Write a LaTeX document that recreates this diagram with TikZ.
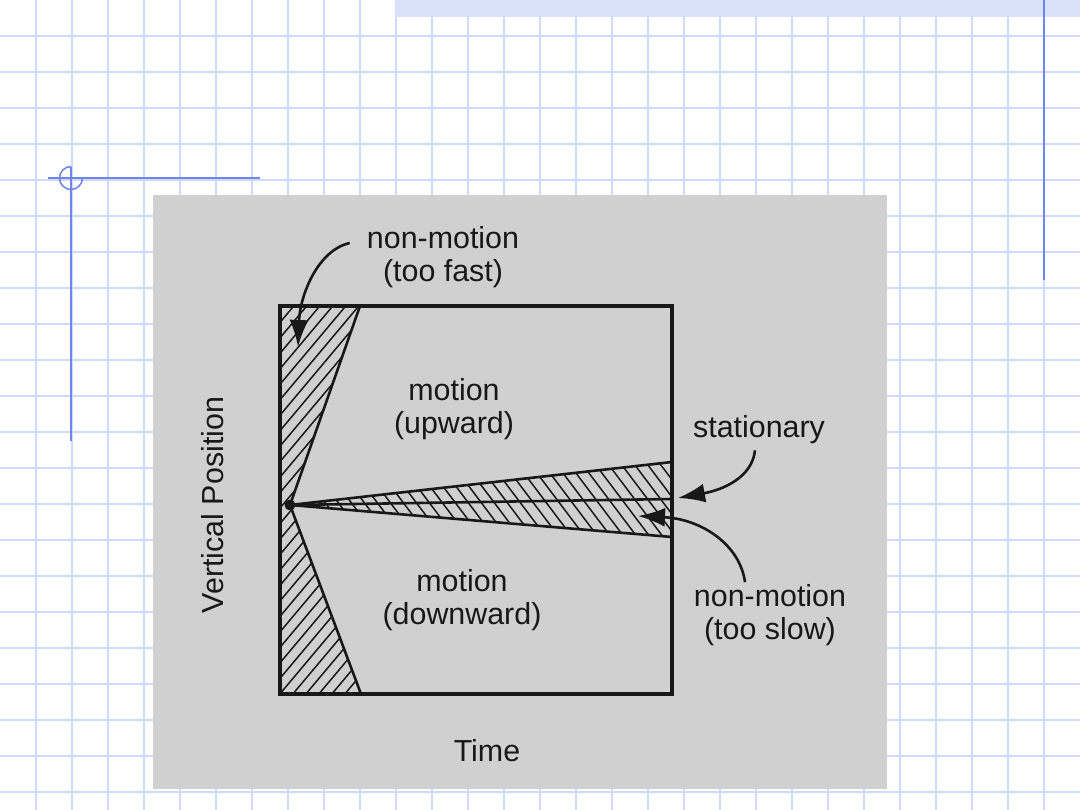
\documentclass[tikz,border=0pt]{standalone}
\usepackage{fontspec}
\setmainfont{Liberation Sans}
\usetikzlibrary{arrows.meta}

\definecolor{gridblue}{RGB}{206,218,252}
\definecolor{barblue}{RGB}{218,226,250}
\definecolor{markblue}{RGB}{112,132,238}
\definecolor{panelgray}{RGB}{208,208,208}
\definecolor{ink}{RGB}{24,24,24}

\begin{document}
\begin{tikzpicture}[x=1pt, y=-1pt,
    gridline/.style={gridblue, line width=2pt},
    markline/.style={markblue, line width=1.5pt},
    boxline/.style={ink, line width=3.5pt},
    wedgeline/.style={ink, line width=2.6pt},
    hatch/.style={ink, line width=1.5pt},
    pointer/.style={ink, line width=2.6pt, -{Latex[length=27pt, width=19pt]}},
    txt/.style={ink, inner sep=0pt, align=center, font=\fontsize{30.4}{33}\selectfont}]

    % page and squared paper
    \useasboundingbox (0,0) rectangle (1080,810);
    \fill[white] (0,0) rectangle (1080,810);
    \foreach \i in {36,72,...,1044}
        \draw[gridline] (\i,0) -- (\i,810);
    \foreach \j in {36,72,...,792}
        \draw[gridline] (0,\j) -- (1080,\j);

    % top bar and blue margin marks
    \fill[barblue] (395,0) rectangle (1080,17);
    \draw[markblue, line width=2pt] (1044,0) -- (1044,280);
    \draw[markline] (48,178) -- (260,178);
    \draw[markline] (71,167) -- (71,441);
    \draw[markline] (71,166.5) arc[start angle=270, end angle=0, radius=11.5];

    % gray panel
    \fill[panelgray] (153,195) rectangle (887,789);

    % hatched regions
    \begin{scope}
        \clip (280,306) -- (360,306) -- (290,505) -- (361,694) -- (280,694) -- cycle;
        \foreach \b in {-80,-67,...,350}
            \draw[hatch] (\b,720) -- ++(420,-500);
    \end{scope}
    \begin{scope}
        \clip (290,505) -- (672,462) -- (672,537) -- cycle;
        \foreach \b in {200,213,...,690}
            \draw[hatch] (\b,440) -- ++(83,110);
    \end{scope}

    % boundary lines
    \draw[wedgeline] (360,306) -- (290,505) -- (361,694);
    \draw[wedgeline] (672,462) -- (290,505) -- (672,537);
    \draw[wedgeline] (290,505) -- (672,499);
    \draw[boxline] (280,306) rectangle (672,694);
    \fill[ink] (290,505) circle (5.5);

    % texts
    \node[txt] (fast) at (443,257) {non-motion\\(too fast)};
    \node[txt] (upward) at (454,409) {motion\\(upward)};
    \node[txt] (downward) at (462,600) {motion\\(downward)};
    \node[txt] (stationary) at (759,430) {stationary};
    \node[txt] (slow) at (770,615) {non-motion\\(too slow)};
    \node[txt] (time) at (487,751) {Time};
    \node[txt, rotate=90] (vertical) at (213,505) {Vertical Position};

    % arrow tips
    \coordinate (fastTip) at (298,347);
    \coordinate (statTip) at (678,498);
    \coordinate (slowTip) at (638,516);

    % pointers
    \draw[pointer] ([xshift=-17pt, yshift=14pt]fast.west) .. controls (318,250) and (300,295) .. (fastTip);
    \draw[pointer] ([xshift=-4pt, yshift=-6pt]stationary.south) .. controls (752,478) and (722,490) .. (statTip);
    \draw[pointer] ([xshift=-25pt, yshift=2pt]slow.north) .. controls (740,545) and (702,519) .. (slowTip);

\end{tikzpicture}
\end{document}
